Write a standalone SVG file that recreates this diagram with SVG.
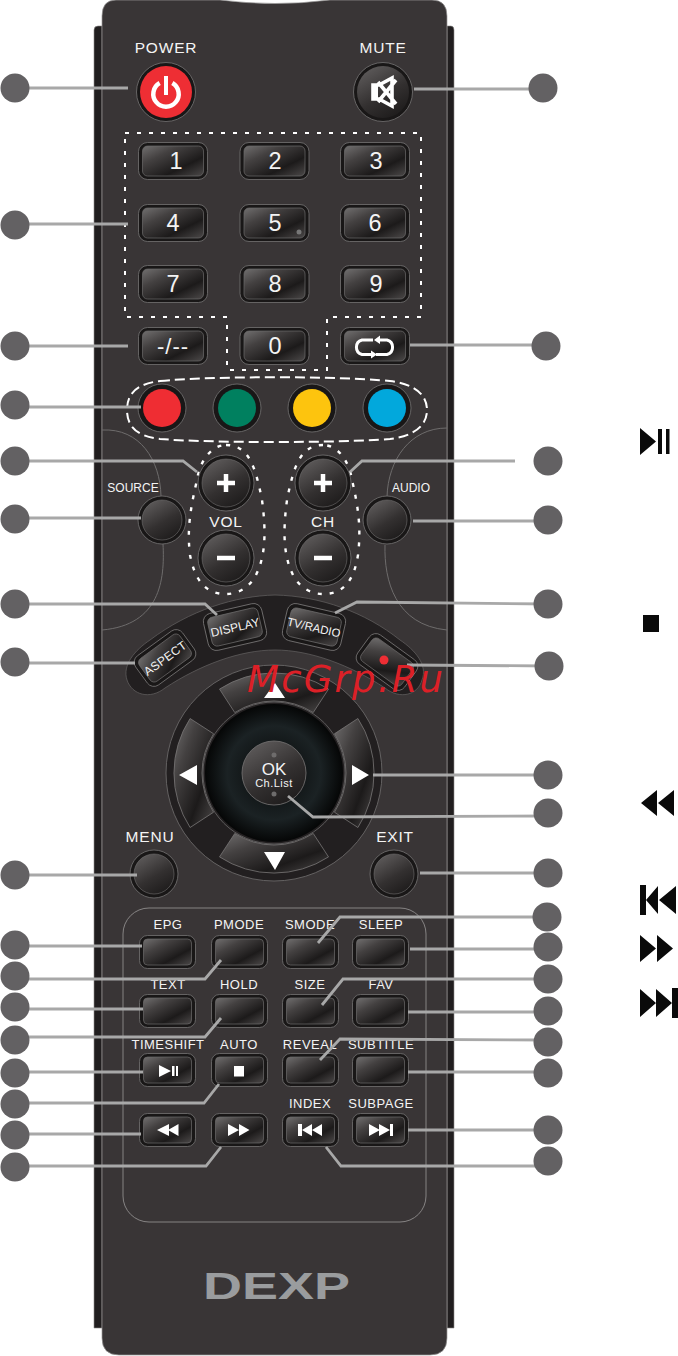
<svg xmlns="http://www.w3.org/2000/svg" width="678" height="1356" viewBox="0 0 678 1356">
<style>
text{font-family:"Liberation Sans",Arial,sans-serif;fill:#f4f4f4;text-anchor:middle}
.lab{font-size:13px;letter-spacing:.5px}
.big{font-size:15.500px;letter-spacing:.8px}
.num{font-size:23.500px}
.tag{font-size:12px}
.wire{fill:none;stroke:#a8a8a8;stroke-width:2.800}
.badge{fill:#636163}
.w{fill:#fff}
.k{fill:#0a0a0a}
.ro{fill:#191717;stroke:#757373;stroke-width:.8}
.ri{fill:url(#sheen);stroke:#6c6a6a;stroke-width:.7}
.thin{fill:none;stroke:#6e6c6c;stroke-width:1}
.seg{fill:url(#sheen);stroke:#787676;stroke-width:.8}
</style>
<defs>
<linearGradient id="sheen" x1="0" y1="0" x2="1" y2="1">
<stop offset="0" stop-color="#716f6f"/><stop offset=".3" stop-color="#444141"/><stop offset=".68" stop-color="#1c1a1a"/><stop offset="1" stop-color="#4c4949"/>
</linearGradient>
<linearGradient id="round" x1=".2" y1="0" x2=".8" y2="1">
<stop offset="0" stop-color="#5f5c5c"/><stop offset=".55" stop-color="#333030"/><stop offset="1" stop-color="#1c1a1a"/>
</linearGradient>
<radialGradient id="disc"><stop offset="0" stop-color="#050606"/><stop offset=".68" stop-color="#1b2224"/><stop offset="1" stop-color="#050606"/></radialGradient>
<g id="b70"><rect x=".5" y=".5" width="69" height="37" rx="9" class="ro"/><rect x="4.5" y="4" width="61" height="30" rx="5" class="ri"/></g>
<g id="b57"><rect x=".5" y=".5" width="56" height="33" rx="8" class="ro"/><rect x="4.5" y="4" width="48" height="26" rx="4" class="ri"/></g>
<g id="bc"><rect x="-29" y="-18" width="58" height="36" rx="8" class="ro"/><rect x="-25" y="-14" width="50" height="28" rx="5" class="ri"/></g>
</defs>

<g id="body">
<path d="M94 30Q94 26 98 26H102V1328H94Z M447 26H451Q454 26 454 30V1328H447Z" fill="#211e1f" stroke="#8d8b8b" stroke-width=".6"/>
<path d="M116 0H220Q275 7 330 0H432Q447 0 447 16V1338Q447 1355 430 1355H119Q102 1355 102 1338V16Q102 0 116 0Z" fill="#393536" stroke="#9b9999" stroke-width=".7"/>
<path d="M102 430C140 428 160 460 161 496M163 544C165 580 160 625 102 630M447 428C410 428 388 460 387 497M385 545C384 580 395 625 447 630" class="thin"/>
<rect x="123" y="908" width="303" height="314" rx="26" fill="none" stroke="#8e8c8c" stroke-width=".9"/>
<text x="276.500" y="1299" font-size="36" font-weight="700" textLength="147" lengthAdjust="spacingAndGlyphs" style="fill:#9a9c9e">DEXP</text>
</g>

<g id="power"><text x="166" y="53" class="big">POWER</text><circle cx="166" cy="92" r="29.500" class="ro"/><circle cx="166" cy="92" r="26" fill="#ee2e34"/><path d="M159.650 83A12.700 12.700 0 1 0 172.350 83" fill="none" stroke="#fff" stroke-width="4.500"/><rect x="164" y="76" width="4" height="19" class="w"/></g>
<g id="mute"><text x="383" y="53" class="big">MUTE</text><circle cx="383" cy="92" r="29.500" class="ro"/><circle cx="383" cy="92" r="26" fill="url(#round)"/><path d="M373 85H379L392 78V106L379 99H373Z M378 82L396 104M378 102L396 80" fill="none" stroke="#fff" stroke-width="3.600"/><rect x="372" y="84" width="6" height="16" class="w"/></g>

<g id="numpad">
<path d="M125 133H421V317H327V370H227V317H125Z" fill="none" stroke="#fff" stroke-width="2" stroke-dasharray="4 8"/>
<use href="#b70" x="138" y="142"/><use href="#b70" x="239.500" y="142"/><use href="#b70" x="340" y="142"/>
<use href="#b70" x="138" y="204"/><use href="#b70" x="239.500" y="204"/><use href="#b70" x="340" y="204"/>
<use href="#b70" x="138" y="265"/><use href="#b70" x="239.500" y="265"/><use href="#b70" x="340" y="265"/>
<use href="#b70" x="239.500" y="327"/>
<text x="176" y="169" class="num">1</text><text x="275" y="169" class="num">2</text><text x="376" y="169" class="num">3</text>
<text x="173" y="231" class="num">4</text><text x="275" y="231" class="num">5</text><text x="375" y="231" class="num">6</text>
<text x="173" y="292" class="num">7</text><text x="275" y="292" class="num">8</text><text x="376" y="292" class="num">9</text>
<text x="275" y="354" class="num">0</text>
<circle cx="299" cy="232" r="2.500" fill="#777"/>
</g>
<g id="dash"><use href="#b70" x="138" y="327"/><text x="173" y="354" class="num" style="font-size:22px;letter-spacing:1px">-/--</text></g>
<g id="loop"><use href="#b70" x="340" y="327"/><path d="M373 340H362A7.500 7.500 0 0 0 362 354.500H372M379 340H387A7.500 7.500 0 0 1 387 354.500H376" fill="none" stroke="#fff" stroke-width="3"/><path d="M371 350.500L377 354.500L371 358.500Z M380 335.500L374 340L380 344Z" class="w"/></g>

<g id="colours">
<path d="M160 381C210 376 340 376 390 381C415 384 427 395 427 410C427 425 415 436 390 439C340 443 210 443 160 439C135 436 127 425 127 410C127 395 135 384 160 381Z" fill="none" stroke="#fff" stroke-width="2" stroke-dasharray="10 5"/>
<circle cx="162" cy="408" r="24" class="ro"/><circle cx="162" cy="408" r="19" fill="#ef2d33"/>
<circle cx="237" cy="408" r="24" class="ro"/><circle cx="237" cy="408" r="19" fill="#00805f"/>
<circle cx="312" cy="408" r="24" class="ro"/><circle cx="312" cy="408" r="19" fill="#fdc40e"/>
<circle cx="387" cy="408" r="24" class="ro"/><circle cx="387" cy="408" r="19" fill="#02a8dc"/>
</g>

<g id="vol">
<path d="M226 445C250 445 256 470 262 500C266 530 266 555 256 575C248 590 235 594 226 594C205 594 195 580 190 555C187 530 190 510 197 480C200 460 212 445 226 445Z" fill="none" stroke="#fff" stroke-width="2.400" stroke-dasharray="4 8"/>
<circle cx="226" cy="483" r="28" class="ro"/><circle cx="226" cy="483" r="24" fill="url(#round)" stroke="#6f6d6d" stroke-width=".6"/>
<circle cx="226" cy="558" r="28" class="ro"/><circle cx="226" cy="558" r="24" fill="url(#round)" stroke="#6f6d6d" stroke-width=".6"/>
<path d="M217 483H235M226 474V492M217 558H235" stroke="#fff" stroke-width="4.500" fill="none"/>
<text x="226" y="527" class="big">VOL</text>
</g>
<g id="ch">
<path d="M323 445C299 445 293 470 287 500C283 530 283 555 293 575C301 590 314 594 323 594C344 594 354 580 358 555C361 530 359 510 352 480C349 460 337 445 323 445Z" fill="none" stroke="#fff" stroke-width="2.400" stroke-dasharray="4 8"/>
<circle cx="323" cy="483" r="28" class="ro"/><circle cx="323" cy="483" r="24" fill="url(#round)" stroke="#6f6d6d" stroke-width=".6"/>
<circle cx="323" cy="558" r="28" class="ro"/><circle cx="323" cy="558" r="24" fill="url(#round)" stroke="#6f6d6d" stroke-width=".6"/>
<path d="M314 483H332M323 474V492M314 558H332" stroke="#fff" stroke-width="4.500" fill="none"/>
<text x="323" y="527" class="big">CH</text>
</g>
<g id="source"><text x="133" y="492" class="tag">SOURCE</text><circle cx="162" cy="520" r="24" class="ro"/><circle cx="162" cy="520" r="20" fill="url(#round)" stroke="#6f6d6d" stroke-width=".6"/></g>
<g id="audio"><text x="411" y="492" class="tag">AUDIO</text><circle cx="387" cy="520" r="24" class="ro"/><circle cx="387" cy="520" r="20" fill="url(#round)" stroke="#6f6d6d" stroke-width=".6"/></g>

<g id="strip"><path d="M127 680C122 665 135 650 150 640C190 610 235 596 275 595C320 596 365 612 400 640C415 650 428 665 422 680C418 695 400 700 385 688C350 665 310 650 275 650C240 650 200 665 165 688C150 700 132 695 127 680Z" fill="#221f20" stroke="#5e5c5c" stroke-width=".8"/></g>
<g id="aspect" transform="translate(165 658) rotate(-36)"><use href="#bc"/><text y="4.500" class="tag" style="letter-spacing:.3px">ASPECT</text></g>
<g id="display" transform="translate(235 627) rotate(-13)"><use href="#bc" transform="scale(1.030 1.050)"/><text y="4.500" class="tag">DISPLAY</text></g>
<g id="tvradio" transform="translate(314 627) rotate(13)"><use href="#bc" transform="scale(1.030 1.050)"/><text y="4.500" class="tag" style="font-size:11.500px">TV/RADIO</text></g>
<g id="record" transform="translate(387 662) rotate(36)"><use href="#bc"/></g>
<circle id="record-dot" cx="384" cy="660" r="4.500" fill="#ee2e34"/>

<g id="dpad">
<circle cx="274" cy="773" r="108" fill="#221f20" stroke="#6a6868" stroke-width=".9"/>
<path d="M219.500 689.100A100 100 0 0 1 328.500 689.100L313.200 712.600A72 72 0 0 0 234.800 712.600Z" class="seg"/>
<path d="M219.500 856.900A100 100 0 0 0 328.500 856.900L313.200 833.400A72 72 0 0 1 234.800 833.400Z" class="seg"/>
<path d="M190.100 718.500A100 100 0 0 0 190.100 827.500L213.600 812.200A72 72 0 0 1 213.600 733.800Z" class="seg"/>
<path d="M357.900 718.500A100 100 0 0 1 357.900 827.500L334.400 812.200A72 72 0 0 0 334.400 733.800Z" class="seg"/>
<circle cx="274" cy="773" r="71" fill="none" stroke="#6a6868" stroke-width=".8"/>
<circle cx="274" cy="773" r="69" fill="url(#disc)"/>
<path d="M275 683L264 698H285Z M179 775L197 765V785Z M369 775L352 765V785Z M264 852H285L275 870Z" class="w"/>
</g>
<g id="ok">
<circle cx="274" cy="773" r="32" fill="url(#round)" stroke="#6f6d6d" stroke-width=".9"/>
<circle cx="274" cy="755" r="2.500" fill="#6e6c6c"/><circle cx="274" cy="794" r="2.500" fill="#6e6c6c"/>
<text x="274" y="775" style="font-size:17px">OK</text>
<text x="274" y="787" style="font-size:11px;letter-spacing:.5px">Ch.List</text>
</g>
<g id="menu"><text x="150" y="842" class="big">MENU</text><circle cx="154" cy="874" r="24" class="ro"/><circle cx="154" cy="874" r="20" fill="url(#round)" stroke="#6f6d6d" stroke-width=".6"/></g>
<g id="exit"><text x="395" y="842" class="big">EXIT</text><circle cx="394" cy="874" r="24" class="ro"/><circle cx="394" cy="874" r="20" fill="url(#round)" stroke="#6f6d6d" stroke-width=".6"/></g>

<g id="epg"><use href="#b57" x="139" y="935"/><text x="168" y="929" class="lab">EPG</text></g>
<g id="pmode"><use href="#b57" x="211" y="935"/><text x="239" y="929" class="lab">PMODE</text></g>
<g id="smode"><use href="#b57" x="282" y="935"/><text x="310" y="929" class="lab">SMODE</text></g>
<g id="sleep"><use href="#b57" x="352" y="935"/><text x="381" y="929" class="lab">SLEEP</text></g>
<g id="text"><use href="#b57" x="139" y="994"/><text x="168" y="989" class="lab">TEXT</text></g>
<g id="hold"><use href="#b57" x="211" y="994"/><text x="239" y="989" class="lab">HOLD</text></g>
<g id="size"><use href="#b57" x="282" y="994"/><text x="310" y="989" class="lab">SIZE</text></g>
<g id="fav"><use href="#b57" x="352" y="994"/><text x="381" y="989" class="lab">FAV</text></g>
<g id="timeshift"><use href="#b57" x="139" y="1053"/><text x="168" y="1049" class="lab">TIMESHIFT</text><path d="M159 1065L171 1071L159 1077Z M172 1066H174.500V1076H172Z M176 1066H178V1076H176Z" class="w"/></g>
<g id="auto"><use href="#b57" x="211" y="1053"/><text x="239" y="1049" class="lab">AUTO</text><rect x="234" y="1066" width="10" height="10.500" class="w"/></g>
<g id="reveal"><use href="#b57" x="282" y="1053"/><text x="310" y="1049" class="lab">REVEAL</text></g>
<g id="subtitle"><use href="#b57" x="352" y="1053"/><text x="381" y="1049" class="lab">SUBTITLE</text></g>
<g id="rew"><use href="#b57" x="139" y="1113"/><path d="M157 1130L169 1124V1136Z M168 1130L178.500 1124V1136Z" class="w"/></g>
<g id="ff"><use href="#b57" x="211" y="1113"/><path d="M228 1124L239 1130L228 1136Z M239 1124L249.500 1130L239 1136Z" class="w"/></g>
<g id="index"><use href="#b57" x="282" y="1113"/><text x="310" y="1108" class="lab">INDEX</text><path d="M298 1124H302V1136H298Z M302 1130L312 1124V1136Z M312 1130L322 1124V1136Z" class="w"/></g>
<g id="subpage"><use href="#b57" x="352" y="1113"/><text x="381" y="1108" class="lab">SUBPAGE</text><path d="M369 1124L380 1130L369 1136Z M379 1124L390 1130L379 1136Z M390 1124H393V1136H390Z" class="w"/></g>

<g id="connectors" class="wire">
<path d="M15 88H128M15 224H128M15 346H128M15 407H141M15 461H183L197 472M15 518H141M15 604H205L217 615M15 663H135M15 875H137"/>
<path d="M15 946H142M15 979H205L221 960M15 1009H143M15 1037H205L221 1018M15 1072H143M15 1103H204L219 1084M15 1134H141M15 1166H206L221 1147"/>
<path d="M414 89H543M410 345H546M350 472L362 461H515M413 521H548M335 613L357 602L548 604M407 665L549 666M373 775H548M288 796L313 817L548 816M420 873H548"/>
<path d="M318 943L340 917H547M410 949H548M322 1005L343 979H548M408 1012H548M320 1060L340 1039L548 1040M408 1072H548M408 1130H548M326 1147L341 1166H548"/>
</g>

<g id="badges" class="badge">
<circle id="l1" cx="15" cy="88" r="14.500"/><circle id="l2" cx="15" cy="225" r="14.500"/><circle id="l3" cx="15" cy="346" r="14.500"/><circle id="l4" cx="15" cy="405" r="14.500"/><circle id="l5" cx="15" cy="461" r="14.500"/><circle id="l6" cx="15" cy="519" r="14.500"/><circle id="l7" cx="15" cy="604" r="14.500"/><circle id="l8" cx="15" cy="662" r="14.500"/><circle id="l9" cx="15" cy="875" r="14.500"/><circle id="l10" cx="15" cy="945" r="14.500"/><circle id="l11" cx="15" cy="976" r="14.500"/><circle id="l12" cx="15" cy="1007" r="14.500"/><circle id="l13" cx="15" cy="1040" r="14.500"/><circle id="l14" cx="15" cy="1073" r="14.500"/><circle id="l15" cx="15" cy="1104" r="14.500"/><circle id="l16" cx="15" cy="1135" r="14.500"/><circle id="l17" cx="15" cy="1167" r="14.500"/>
<circle id="r1" cx="543" cy="88" r="14.500"/><circle id="r2" cx="546" cy="346" r="14.500"/><circle id="r3" cx="548" cy="461" r="14.500"/><circle id="r4" cx="548" cy="520" r="14.500"/><circle id="r5" cx="548" cy="604" r="14.500"/><circle id="r6" cx="549" cy="666" r="14.500"/><circle id="r7" cx="548" cy="775" r="14.500"/><circle id="r8" cx="548" cy="813" r="14.500"/><circle id="r9" cx="548" cy="873" r="14.500"/><circle id="r10" cx="547" cy="917" r="14.500"/><circle id="r11" cx="548" cy="947" r="14.500"/><circle id="r12" cx="548" cy="979" r="14.500"/><circle id="r13" cx="548" cy="1011" r="14.500"/><circle id="r14" cx="548" cy="1042" r="14.500"/><circle id="r15" cx="548" cy="1073" r="14.500"/><circle id="r16" cx="548" cy="1130" r="14.500"/><circle id="r17" cx="548" cy="1161" r="14.500"/>
</g>

<g id="legend" class="k">
<path d="M640 428L656 441.500L640 455Z M658 429H662V454H658Z M666 429H669.500V454H666Z"/>
<rect x="643" y="615" width="16" height="17"/>
<path d="M641 803L657 790V816Z M658 803L674 790V816Z"/>
<path d="M640 885H646V915H640Z M646 900L658 886V914Z M659 900L676 886V914Z"/>
<path d="M640 935L656 948.500L640 962Z M657 935L673 948.500L657 962Z"/>
<path d="M640 989L656 1003L640 1017Z M656 989L672 1003L656 1017Z M672 988H678V1018H672Z"/>
</g>

<text id="watermark" x="345" y="692" textLength="196" lengthAdjust="spacing" style="font-family:'DejaVu Sans',sans-serif;font-style:italic;font-size:37px;fill:#dc2027">McGrp.Ru</text>
</svg>
